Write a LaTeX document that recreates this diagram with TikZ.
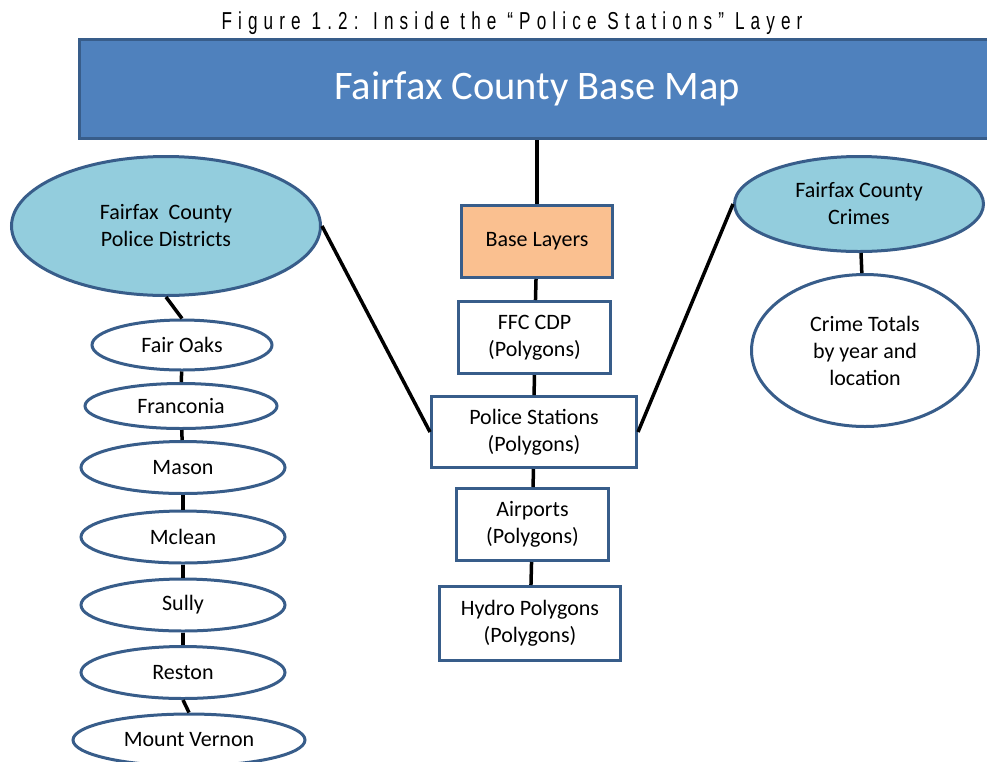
\documentclass[tikz,border=0pt]{standalone}
\usepackage{fontspec}
\setmainfont{Carlito}
\newfontfamily\titlefont[FakeStretch=0.7,LetterSpace=25]{Liberation Sans}
\usetikzlibrary{shapes.geometric}
\definecolor{mapblue}{HTML}{4F81BD}
\definecolor{edgeblue}{HTML}{385D8A}
\definecolor{districtcyan}{HTML}{93CDDD}
\definecolor{peach}{HTML}{FAC090}

\begin{document}
\begin{tikzpicture}[x=1pt, y=-1pt]
        % Define styles
        \tikzstyle{layer}=[rectangle, draw=edgeblue, line width=3pt, fill=white, align=center, inner sep=0pt, font=\fontsize{22}{27}\selectfont]
        \tikzstyle{oval}=[ellipse, draw=edgeblue, line width=3pt, fill=white, align=center, inner sep=0pt, font=\fontsize{22}{27}\selectfont]
        \tikzstyle{link}=[line width=3.5pt, black]

        \useasboundingbox (0,0) rectangle (987,761);

        % Title
        \node[font=\titlefont\fontsize{24.5}{26}\selectfont] (title) at (512,23) {Figure 1.2: Inside the “Police Stations” Layer};

        % Base map (top)
        \node[layer, fill=mapblue, text=white, minimum width=915, minimum height=99,
              font=\fontsize{40.5}{45}\selectfont] (basemap) at (537,89) {Fairfax County Base Map};

        % Layer stack (center)
        \node[layer, fill=peach, minimum width=151, minimum height=72] (baselayers) at (537,241.5) {Base Layers};
        \node[layer, minimum width=152, minimum height=72] (ffc) at (534.5,337.5) {FFC CDP\\(Polygons)};
        \node[layer, minimum width=205, minimum height=71] (police) at (534,432) {Police Stations\\(Polygons)};
        \node[layer, minimum width=152, minimum height=72] (airports) at (532.5,524.5) {Airports\\(Polygons)};
        \node[layer, minimum width=181, minimum height=74] (hydro) at (530,623.5) {Hydro Polygons\\(Polygons)};

        % Police districts (left)
        \node[oval, fill=districtcyan, minimum width=309, minimum height=139] (districts) at (166,226) {Fairfax\ \ County\\Police Districts};
        \node[oval, minimum width=180, minimum height=50] (fairoaks) at (182,345) {Fair Oaks};
        \node[oval, minimum width=192, minimum height=45] (franconia) at (181,406) {Franconia};
        \node[oval, minimum width=204, minimum height=52] (mason) at (183,467.5) {Mason};
        \node[oval, minimum width=204, minimum height=52] (mclean) at (183,537) {Mclean};
        \node[oval, minimum width=204, minimum height=52] (sully) at (183,605) {Sully};
        \node[oval, minimum width=204, minimum height=52] (reston) at (183,672.5) {Reston};
        \node[oval, minimum width=232, minimum height=52] (mvernon) at (189,740) {Mount Vernon};

        % Crimes (right)
        \node[oval, fill=districtcyan, minimum width=249, minimum height=95] (crimes) at (859,204) {Fairfax County\\Crimes};
        \node[oval, minimum width=227, minimum height=152] (totals) at (865,350.5) {Crime Totals\\by year and\\location};

        % Connectors
        \draw[link] (basemap) -- (baselayers);
        \draw[link] (baselayers) -- (ffc);
        \draw[link] (ffc) -- (police);
        \draw[link] (police) -- (airports);
        \draw[link] (airports) -- (hydro);
        \draw[link] (districts.east) -- (police.west);
        \draw[link] (crimes.west) -- (police.east);
        \draw[link] (crimes) -- (totals);
        \draw[link] (districts.south) -- (fairoaks.north);
        \draw[link] (fairoaks) -- (franconia);
        \draw[link] (franconia) -- (mason);
        \draw[link] (mason) -- (mclean);
        \draw[link] (mclean) -- (sully);
        \draw[link] (sully) -- (reston);
        \draw[link] (reston.south) -- (mvernon.north);

    \end{tikzpicture}
\end{document}
